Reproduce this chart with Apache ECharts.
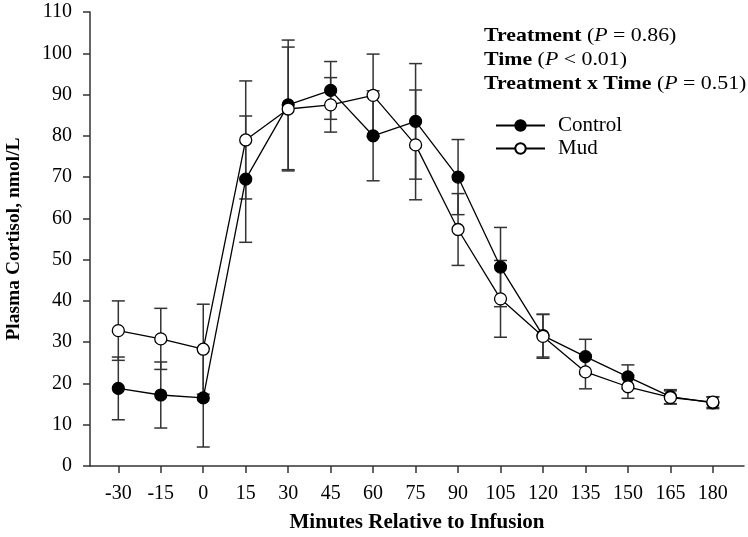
<!DOCTYPE html>
<html>
<head>
<meta charset="utf-8">
<script src="https://cdn.jsdelivr.net/npm/echarts@6/dist/echarts.min.js"></script>
<style>
html,body{margin:0;padding:0;background:#fff;}
#chart{width:748px;height:537px;}
</style>
</head>
<body>
<div id="chart"></div>
<script>
const minutes = [-30, -15, 0, 15, 30, 45, 60, 75, 90, 105, 120, 135, 150, 165, 180];
const controlMean = [18.8, 17.2, 16.5, 69.5, 87.5, 91.0, 80.0, 83.5, 70.0, 48.2, 31.6, 26.5, 21.6, 16.8, 15.3];
const controlSE   = [7.6, 8.0, 11.9, 15.3, 15.7, 7.0, 10.9, 14.0, 9.1, 9.6, 5.2, 4.2, 2.9, 1.7, 1.4];
const mudMean     = [32.8, 30.8, 28.3, 79.0, 86.5, 87.5, 89.8, 77.8, 57.3, 40.5, 31.4, 22.8, 19.2, 16.6, 15.5];
const mudSE       = [7.2, 7.4, 10.9, 14.3, 15.0, 6.6, 10.0, 13.3, 8.7, 9.3, 5.3, 4.1, 2.8, 1.6, 1.3];
const yTicks = [0, 10, 20, 30, 40, 50, 60, 70, 80, 90, 100, 110];

const FONT = '"Liberation Serif", "Times New Roman", serif';

function errData(mean, se) {
  return minutes.map((m, i) => [m, mean[i] - se[i], mean[i] + se[i]]);
}
function errRender(params, api) {
  const x = api.value(0);
  const lo = api.coord([x, api.value(1)]);
  const hi = api.coord([x, api.value(2)]);
  const hw = 6.5;
  const st = { stroke: '#333', lineWidth: 1.5, fill: null };
  return {
    type: 'group',
    children: [
      { type: 'line', shape: { x1: lo[0], y1: lo[1], x2: hi[0], y2: hi[1] }, style: st },
      { type: 'line', shape: { x1: lo[0] - hw, y1: lo[1], x2: lo[0] + hw, y2: lo[1] }, style: st },
      { type: 'line', shape: { x1: hi[0] - hw, y1: hi[1], x2: hi[0] + hw, y2: hi[1] }, style: st }
    ]
  };
}

const chart = echarts.init(document.getElementById('chart'), null, { renderer: 'canvas' });
chart.setOption({
  animation: false,
  backgroundColor: '#fff',
  textStyle: { fontFamily: FONT },
  grid: { left: 90, right: 4, top: 12, bottom: 71, containLabel: false, outerBoundsMode: 'none' },
  xAxis: {
    type: 'value', min: -40, max: 191,
    name: 'Minutes Relative to Infusion', nameLocation: 'middle', nameGap: 46,
    nameTextStyle: { fontFamily: FONT, fontWeight: 'bold', fontSize: 21, color: '#000', verticalAlign: 'top' },
    axisLine: { onZero: false, lineStyle: { color: '#333', width: 1.5 } },
    axisTick: { show: true, length: 7, customValues: minutes, lineStyle: { color: '#333', width: 1.5 } },
    axisLabel: { customValues: minutes, fontFamily: FONT, fontSize: 20, color: '#000', margin: 18 },
    splitLine: { show: false }
  },
  yAxis: {
    type: 'value', min: 0, max: 110, interval: 10,
    name: 'Plasma Cortisol, nmol/L', nameLocation: 'middle', nameGap: 66, nameRotate: 90,
    nameTextStyle: { fontFamily: FONT, fontWeight: 'bold', fontSize: 19.5, color: '#000' },
    axisLine: { show: true, onZero: false, lineStyle: { color: '#333', width: 1.5 } },
    axisTick: { show: true, length: 7, lineStyle: { color: '#333', width: 1.5 } },
    axisLabel: { fontFamily: FONT, fontSize: 20, color: '#000', margin: 18, customValues: yTicks },
    splitLine: { show: false }
  },
  legend: {
    orient: 'vertical', left: 495, top: 115, padding: 0,
    itemWidth: 49, itemHeight: 13, itemGap: 2,
    textStyle: { fontFamily: FONT, fontSize: 21, color: '#000', lineHeight: 14, padding: [0, 0, 0, 8] },
    data: ['Control', 'Mud']
  },
  graphic: [{
    type: 'text', x: 484, y: 24, scaleX: 1.15, scaleY: 1,
    style: {
      text: '{b|Treatment} ({i|P} = 0.86)\n{b|Time} ({i|P} < 0.01)\n{b|Treatment x Time} ({i|P} = 0.51)',
      font: '19px ' + FONT, fill: '#000', lineHeight: 24, verticalAlign: 'top', align: 'left',
      rich: {
        b: { fontWeight: 'bold', fontSize: 19, fontFamily: FONT, lineHeight: 24 },
        i: { fontStyle: 'italic', fontSize: 19, fontFamily: FONT, lineHeight: 24 }
      }
    }
  }],
  series: [
    { name: 'ctrlErr', type: 'custom', renderItem: errRender, data: errData(controlMean, controlSE), z: 1, silent: true },
    { name: 'mudErr', type: 'custom', renderItem: errRender, data: errData(mudMean, mudSE), z: 1, silent: true },
    {
      name: 'Control', type: 'line', z: 3,
      data: minutes.map((m, i) => [m, controlMean[i]]),
      symbol: 'circle', symbolSize: 12,
      lineStyle: { color: '#000', width: 1.3 },
      itemStyle: { color: '#000', borderColor: '#000', borderWidth: 1.2 }
    },
    {
      name: 'Mud', type: 'line', z: 4,
      data: minutes.map((m, i) => [m, mudMean[i]]),
      symbol: 'circle', symbolSize: 12,
      lineStyle: { color: '#000', width: 1.3 },
      itemStyle: { color: '#fff', borderColor: '#000', borderWidth: 1.3 }
    }
  ]
});
</script>
</body>
</html>
